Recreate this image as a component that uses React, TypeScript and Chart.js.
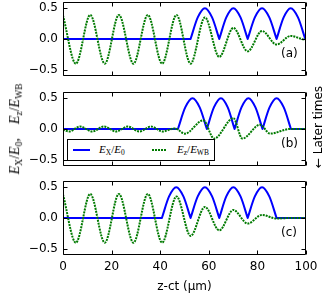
import React, { useEffect, useRef } from "react";
import { Chart, registerables } from "chart.js";

Chart.register(...registerables);

// ---------- axes ----------
const X_MIN = 0;
const X_MAX = 100;
const X_STEP = 20;
const X_TICKS = [0, 20, 40, 60, 80, 100];
const Y_MIN = -0.6;
const Y_MAX = 0.6;
const Y_TICKS = [-0.5, 0, 0.5];
const X_TITLE = "z-ct (\u03bcm)";

// ---------- panel (a) ----------
const blueAX = [0, 52.5, 52.5, 52.5, 55.45, 58.4, 61.35, 64.3, 64.3, 64.3, 67.2, 70.1, 73.05, 76.0, 76.0, 76.0, 78.95, 81.9, 84.9, 87.9, 87.9, 87.9, 90.8, 93.7, 96.7, 99.7];
const blueAY = [0, 0, null, 0, 0.35, 0.5, 0.35, 0, null, 0, 0.35, 0.5, 0.35, 0, null, 0, 0.35, 0.5, 0.35, 0, null, 0, 0.35, 0.5, 0.35, 0];
const greenAX = [0, 5.3, 11.2, 17.2, 23.0, 29.0, 34.9, 40.8, 46.7, 52.5, 58.4, 64.3, 70.1, 76.0, 81.9, 87.9, 93.7, 99.7, 100];
const greenAY = [0.38, -0.4, 0.39, -0.4, 0.39, -0.4, 0.39, -0.4, 0.39, -0.4, 0.35, -0.29, 0.18, -0.2, 0.13, -0.09, 0.05, -0.01, 0];

// ---------- panel (b) ----------
const blueBX = [0, 47.3, 47.3, 47.3, 50.3, 53.3, 56.25, 59.2, 59.2, 59.2, 62.1, 65.0, 67.8, 70.6, 70.6, 70.6, 73.45, 76.3, 79.2, 82.1, 82.1, 82.1, 85.0, 87.9, 90.85, 93.8, 93.8, 93.8, 100];
const blueBY = [0, 0, null, 0, 0.35, 0.5, 0.35, 0, null, 0, 0.35, 0.5, 0.35, 0, null, 0, 0.35, 0.5, 0.35, 0, null, 0, 0.35, 0.5, 0.35, 0, null, 0, 0];
const greenBX = [0, 2.5, 7.0, 12.0, 16.8, 21.8, 26.7, 31.4, 36.2, 41.0, 46.0, 50.2, 57.7, 62.2, 70.1, 73.8, 81.1, 85.2, 93.4, 100];
const greenBY = [-0.01, -0.04, 0.04, -0.04, 0.04, -0.04, 0.04, -0.04, 0.04, -0.04, 0.01, -0.075, 0.14, -0.156, 0.177, -0.156, 0.07, -0.075, 0, 0];

// ---------- panel (c) ----------
const blueCX = [0, 40.7, 40.7, 40.7, 43.65, 46.6, 49.55, 52.5, 52.5, 52.5, 55.45, 58.4, 61.35, 64.3, 64.3, 64.3, 67.2, 70.1, 73.05, 76.0, 76.0, 76.0, 78.95, 81.9, 84.9, 87.9, 87.9, 87.9, 100];
const blueCY = [0, 0, null, 0, 0.35, 0.5, 0.35, 0, null, 0, 0.35, 0.5, 0.35, 0, null, 0, 0.35, 0.5, 0.35, 0, null, 0, 0.35, 0.5, 0.35, 0, null, 0, 0];
const greenCX = [0, 5.3, 11.2, 17.2, 23.0, 29.0, 34.9, 40.8, 46.7, 52.5, 58.4, 64.3, 70.1, 76.0, 81.9, 87.9, 93.0, 100];
const greenCY = [0.38, -0.4, 0.39, -0.4, 0.39, -0.4, 0.39, -0.4, 0.35, -0.29, 0.18, -0.2, 0.13, -0.09, 0.05, -0.01, 0, 0];

const BLUE = "#0000ff";
const GREEN = "#007a00";
const SANS = "'DejaVu Sans', sans-serif";
const MATH = "'Liberation Serif', 'DejaVu Serif', serif";

const pts = (xs: number[], ys: (number | null)[]) => xs.map((x, i) => ({ x, y: ys[i] }));
const fmt = (v: number) => (v < 0 ? "\u2212" + Math.abs(v).toFixed(1) : v.toFixed(1));

const frameTicks = {
  id: "frameTicks",
  afterDraw(chart: any) {
    const ctx = chart.ctx;
    const area = chart.chartArea;
    const xs = chart.scales.x;
    const ys = chart.scales.y;
    const l = Math.round(area.left) + 0.5;
    const r = Math.round(area.right) - 0.5;
    const t = Math.round(area.top) + 0.5;
    const b = Math.round(area.bottom) - 0.5;
    const L = 4;
    ctx.save();
    ctx.setLineDash([]);
    ctx.globalAlpha = 1;
    ctx.strokeStyle = "#000000";
    ctx.lineWidth = 1;
    ctx.beginPath();
    for (const v of X_TICKS) {
      const px = Math.round(xs.getPixelForValue(v)) + 0.5;
      ctx.moveTo(px, t);
      ctx.lineTo(px, t + L);
      ctx.moveTo(px, b);
      ctx.lineTo(px, b - L);
    }
    for (const v of Y_TICKS) {
      const py = Math.round(ys.getPixelForValue(v)) + 0.5;
      ctx.moveTo(l, py);
      ctx.lineTo(l + L, py);
      ctx.moveTo(r, py);
      ctx.lineTo(r - L, py);
    }
    ctx.moveTo(l, t);
    ctx.lineTo(r, t);
    ctx.lineTo(r, b);
    ctx.lineTo(l, b);
    ctx.closePath();
    ctx.stroke();
    ctx.restore();
  },
};

type PanelProps = {
  blueX: number[];
  blueY: (number | null)[];
  greenX: number[];
  greenY: (number | null)[];
  top: number;
  height: number;
  showX: boolean;
};

function Panel({ blueX, blueY, greenX, greenY, top, height, showX }: PanelProps) {
  const ref = useRef<HTMLCanvasElement>(null);
  useEffect(() => {
    const font = { family: SANS, size: 12 };
    const chart = new Chart(ref.current as HTMLCanvasElement, {
      type: "line",
      data: {
        datasets: [
          {
            label: "Ex/E0",
            data: pts(blueX, blueY),
            borderColor: BLUE,
            borderWidth: 2,
            pointRadius: 0,
            cubicInterpolationMode: "monotone",
            borderCapStyle: "round",
            borderJoinStyle: "round",
            fill: false,
            order: 1,
          },
          {
            label: "Ez/EWB",
            data: pts(greenX, greenY),
            borderColor: GREEN,
            borderWidth: 2,
            borderDash: [2, 1],
            pointRadius: 0,
            cubicInterpolationMode: "monotone",
            fill: false,
            order: 0,
          },
        ],
      } as any,
      options: {
        animation: false,
        responsive: false,
        events: [],
        layout: { padding: { left: 0, right: 23, top: 2, bottom: showX ? 0 : 4 } },
        plugins: { legend: { display: false }, tooltip: { enabled: false } },
        scales: {
          x: {
            type: "linear",
            min: X_MIN,
            max: X_MAX,
            display: showX,
            grid: { display: false, drawTicks: false },
            border: { display: false },
            ticks: { stepSize: X_STEP, font, color: "#000", padding: 5, maxRotation: 0 },
            title: { display: showX, text: X_TITLE, font, color: "#000", padding: { top: 0, bottom: 6 } },
            afterFit: (s: any) => {
              s.height = showX ? 45 : 0;
              s.paddingLeft = 0;
              s.paddingRight = 0;
            },
          },
          y: {
            type: "linear",
            min: Y_MIN,
            max: Y_MAX,
            grid: { display: false, drawTicks: false },
            border: { display: false },
            afterBuildTicks: (s: any) => {
              s.ticks = Y_TICKS.map((v) => ({ value: v }));
            },
            ticks: { font, color: "#000", padding: 5, callback: (v: any) => fmt(Number(v)) },
            afterFit: (s: any) => {
              s.width = 63;
              s.paddingTop = 0;
              s.paddingBottom = 0;
            },
          },
        },
      } as any,
      plugins: [frameTicks],
    });
    return () => chart.destroy();
  }, []);
  return (
    <div style={{ position: "absolute", left: 0, top, width: 329, height }}>
      <canvas ref={ref} width={329} height={height} style={{ display: "block", width: 329, height }} />
    </div>
  );
}

const Sub = ({ children }: { children: React.ReactNode }) => (
  <span style={{ fontSize: "0.68em", fontStyle: "normal", verticalAlign: "-0.3em" }}>{children}</span>
);
const E = () => <span style={{ fontStyle: "italic" }}>E</span>;

const panelLabel = (text: string, top: number) => (
  <div
    style={{ position: "absolute", left: 281, top, font: `12px ${SANS}`, lineHeight: "14px", color: "#000" }}
  >
    {text}
  </div>
);

export default function App() {
  return (
    <div style={{ position: "absolute", left: 0, top: 0, width: 329, height: 300, background: "#fff", overflow: "hidden" }}>
      <Panel blueX={blueAX} blueY={blueAY} greenX={greenAX} greenY={greenAY} top={0} height={80} showX={false} />
      <Panel blueX={blueBX} blueY={blueBY} greenX={greenBX} greenY={greenBY} top={90} height={80} showX={false} />
      <Panel blueX={blueCX} blueY={blueCY} greenX={greenCX} greenY={greenCY} top={179} height={121} showX={true} />

      {panelLabel("(a)", 46)}
      {panelLabel("(b)", 136)}
      {panelLabel("(c)", 225)}

      {/* legend in panel (b) */}
      <div
        style={{
          position: "absolute",
          left: 67,
          top: 139,
          width: 148,
          height: 22,
          border: "1px solid #000",
          background: "#fff",
          boxSizing: "border-box",
        }}
      >
        <div style={{ position: "absolute", left: 5, top: 9, width: 17, height: 2, background: BLUE }} />
        <div style={{ position: "absolute", left: 31, top: 1, font: `11px ${MATH}`, lineHeight: "16px", whiteSpace: "nowrap" }}>
          <E />
          <Sub>X</Sub>/<E />
          <Sub>0</Sub>
        </div>
        <div
          style={{
            position: "absolute",
            left: 84,
            top: 9,
            width: 14,
            height: 2,
            background: `repeating-linear-gradient(90deg, ${GREEN} 0px, ${GREEN} 2px, transparent 2px, transparent 3px)`,
          }}
        />
        <div style={{ position: "absolute", left: 109, top: 1, font: `11px ${MATH}`, lineHeight: "16px", whiteSpace: "nowrap" }}>
          <E />
          <Sub>z</Sub>/<E />
          <Sub>WB</Sub>
        </div>
      </div>

      {/* y-axis label */}
      <div
        style={{
          position: "absolute",
          left: 17,
          top: 129,
          transform: "translate(-50%, -50%) rotate(-90deg)",
          font: `14px ${MATH}`,
          lineHeight: "16px",
          whiteSpace: "nowrap",
          color: "#000",
        }}
      >
        <E />
        <Sub>X</Sub>/<E />
        <Sub>0</Sub>,{"\u2003"}
        <E />
        <Sub>z</Sub>/<E />
        <Sub>WB</Sub>
      </div>

      {/* right-side annotation */}
      <div
        style={{
          position: "absolute",
          left: 318,
          top: 127,
          transform: "translate(-50%, -50%) rotate(-90deg)",
          font: `12px ${SANS}`,
          lineHeight: "14px",
          whiteSpace: "nowrap",
          color: "#000",
        }}
      >
        {"\u2190 Later times"}
      </div>
    </div>
  );
}
